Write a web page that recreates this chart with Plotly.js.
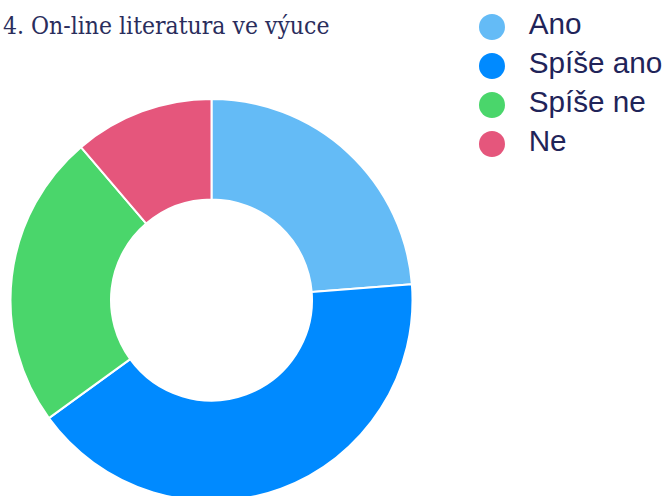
<!DOCTYPE html>
<html>
<head>
<meta charset="utf-8">
<script src="https://cdn.plot.ly/plotly-3.0.1.min.js"></script>
<style>
  html, body { margin: 0; padding: 0; overflow: hidden; background: #fff; }
  #chart { width: 665px; height: 520px; }
</style>
</head>
<body>
<div id="chart"></div>
<script>
const categories = ["Ano", "Spíše ano", "Spíše ne", "Ne"];
const counts = [19, 33, 19, 9];
const colors = ["#64BBF6", "#008AFF", "#4AD66B", "#E5567C"];
const titleText = "4. On-line literatura ve výuce";

const W = 665, H = 520;
const cx = 211.5, cy = 300, r = 201;

const pie = {
  type: "pie",
  labels: categories,
  values: counts,
  hole: 0.5,
  sort: false,
  direction: "clockwise",
  rotation: 0,
  textinfo: "none",
  hoverinfo: "skip",
  showlegend: false,
  marker: { colors: colors, line: { color: "#ffffff", width: 2 } },
  domain: {
    x: [(cx - r) / W, (cx + r) / W],
    y: [(H - (cy + r)) / H, (H - (cy - r)) / H]
  }
};

// Custom legend (large circle symbols) built from the category list
const legendTop = 0, legendH = 170, rowStart = 27, rowStep = 39;
const legendDots = {
  type: "scatter",
  mode: "markers",
  x: categories.map(() => 0.231),
  y: categories,
  marker: { color: colors, size: 26, symbol: "circle", line: { width: 0 } },
  xaxis: "x",
  yaxis: "y",
  hoverinfo: "skip",
  showlegend: false,
  cliponaxis: false
};
const legendLabels = {
  type: "scatter",
  mode: "text",
  x: categories.map(() => 0.394),
  y: categories,
  text: categories,
  textposition: "middle right",
  textfont: { family: "Liberation Sans, Arial, sans-serif", size: 29.7, color: "#1f2459" },
  xaxis: "x",
  yaxis: "y",
  hoverinfo: "skip",
  showlegend: false,
  cliponaxis: false
};

const layout = {
  width: W,
  height: H,
  margin: { l: 0, r: 0, t: 0, b: 0 },
  paper_bgcolor: "#ffffff",
  plot_bgcolor: "rgba(0,0,0,0)",
  title: {
    text: titleText,
    font: { family: "DejaVu Serif Condensed, DejaVu Serif, serif", size: 24.5, color: "#2a2d5c" },
    x: 3 / W,
    xanchor: "left",
    xref: "paper",
    yref: "container",
    y: 1 - 25 / H,
    yanchor: "middle"
  },
  xaxis: { visible: false, domain: [440 / W, 1], range: [0, 1], fixedrange: true },
  yaxis: {
    visible: false,
    type: "category",
    domain: [1 - (legendTop + legendH) / H, 1 - legendTop / H],
    range: [(legendH - rowStart) / rowStep, -rowStart / rowStep],
    fixedrange: true
  },
  showlegend: false
};

Plotly.newPlot("chart", [pie, legendDots, legendLabels], layout, { displayModeBar: false, staticPlot: true });
</script>
</body>
</html>
